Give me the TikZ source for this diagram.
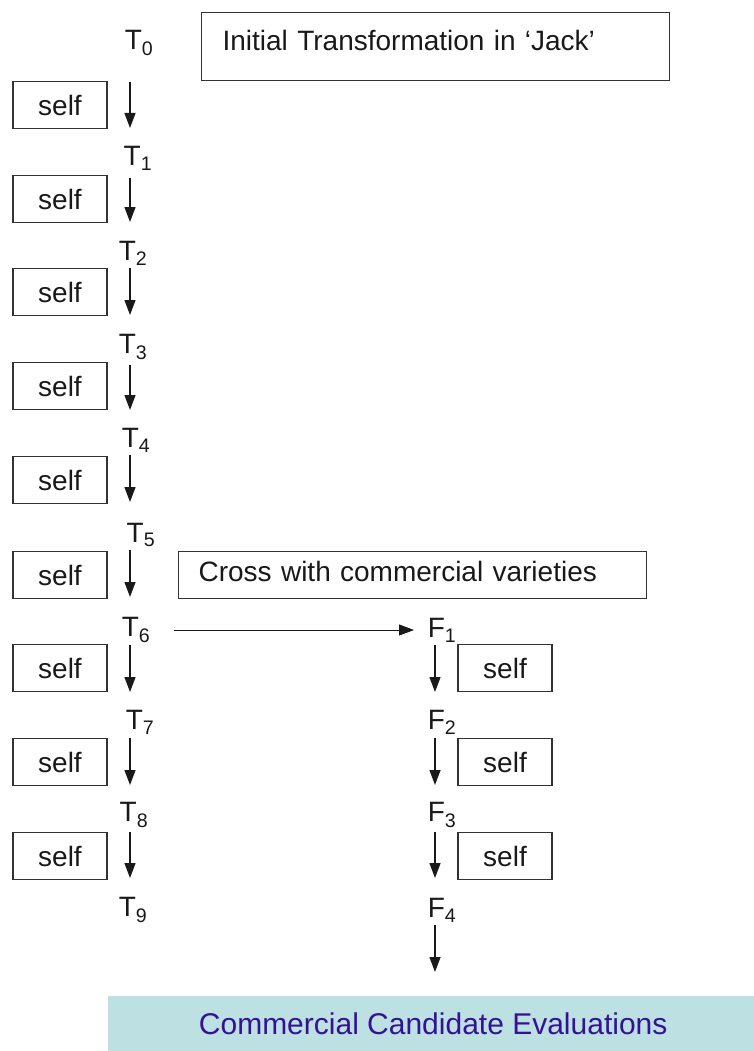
\documentclass[tikz,border=0pt]{standalone}
\usepackage{fontspec}
\setmainfont{Liberation Sans}
\usetikzlibrary{arrows.meta}
\definecolor{boxline}{RGB}{50,50,50}
\definecolor{ink}{RGB}{25,25,25}
\definecolor{evalfill}{RGB}{189,224,227}
\definecolor{evaltext}{RGB}{52,18,150}
\begin{document}
\begin{tikzpicture}[x=1pt,y=-1pt,
  every node/.style={font=\fontsize{28}{32}\selectfont, text=ink},
  lbl/.style={inner sep=0pt},
  selfbox/.style={draw=boxline, line width=1.2pt, minimum width=94pt, minimum height=47pt, inner sep=0pt},
  notebox/.style={draw=boxline, line width=1.2pt, anchor=north west, align=left, inner ysep=0pt},
  arr/.style={line width=1.3pt, draw=ink, -{Triangle[width=11pt,length=15pt]}}]
\useasboundingbox (0,0) rectangle (753,1051);
\coordinate (colT) at (130,0);
\coordinate (colF) at (435,0);
% T column labels
\foreach \n/\x/\y in {0/139/43,1/138/158,2/133/253,3/133/347,4/136/440,5/141/535,6/136/630,7/140/722,8/134/815,9/133/910}
  \node[lbl] (T\n) at (\x,\y) {T\textsubscript{\n}};
% F column labels
\foreach \n/\y in {1/630,2/722,3/815,4/910}
  \node[lbl] (F\n) at (442,\y) {F\textsubscript{\n}};
% self boxes, T column
\foreach \n/\y in {1/105,2/199,3/292,4/386,5/480,6/575,7/668,8/762,9/856}
  \node[selfbox] (sT\n) at (60,\y) {self};
% self boxes, F column
\foreach \n/\y in {1/668,2/762,3/856}
  \node[selfbox] (sF\n) at (505,\y) {self};
% arrows T column
\foreach \a/\b/\s/\e in {0/1/82/128,1/2/178/222,2/3/268/315,3/4/365/410,4/5/455/502,5/6/550/597,6/7/645/692,7/8/738/785,8/9/832/878}
  \draw[arr] (colT |- 0,\s) -- (colT |- 0,\e);
% arrows F column
\foreach \a/\b/\s/\e in {1/2/645/692,2/3/738/785,3/4/832/878,4/5/925/972}
  \draw[arr] (colF |- 0,\s) -- (colF |- 0,\e);
% note boxes
\node[notebox, minimum width=468pt, text width=426pt, inner xsep=21pt, text height=38pt, text depth=30pt] (init) at (201,12) {Initial Transformation in ‘Jack’};
\node[notebox, minimum width=468pt, text width=428pt, inner xsep=20pt, text height=30pt, text depth=17pt] (cross) at (178,551) {Cross with commercial varieties};
% cross arrow
\draw[arr, line width=1pt] ([xshift=38pt]T6.center) -- ([xshift=-28pt]F1.center);
% evaluation box
\node[fill=evalfill, minimum width=650pt, minimum height=55pt, anchor=north west, inner sep=0pt, text=evaltext, font=\fontsize{30}{34}\selectfont] (eval) at (108,996) {Commercial Candidate Evaluations};
\end{tikzpicture}
\end{document}
